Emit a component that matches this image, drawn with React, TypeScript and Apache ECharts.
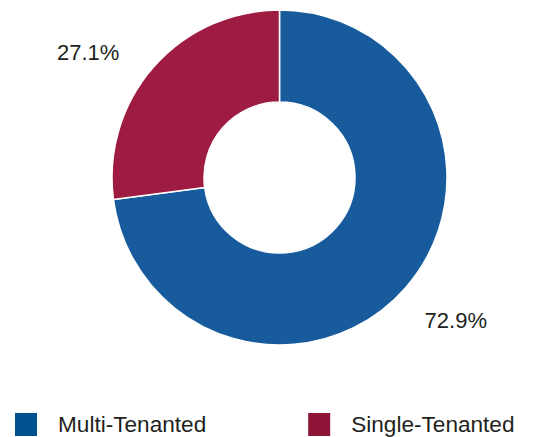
import React, { useEffect, useRef } from "react";
import * as echarts from "echarts";

const categories = ["Multi-Tenanted", "Single-Tenanted"];
const values = [72.9, 27.1];
const sliceColors = ["#185b9c", "#9e1b42"];
const legendColors = ["#00528f", "#8f1538"];

export default function App() {
  const ref = useRef<HTMLDivElement>(null);
  useEffect(() => {
    if (!ref.current) return;
    const chart = echarts.init(ref.current, undefined, { renderer: "svg" });
    const font = "'Liberation Sans', Arial, Helvetica, sans-serif";
    chart.setOption({
      animation: false,
      backgroundColor: "#ffffff",
      legend: {
        left: 13,
        top: 411,
        padding: 0,
        itemWidth: 24,
        itemHeight: 25,
        itemGap: 100,
        icon: "rect",
        selectedMode: false,
        formatter: (name: string) => "{s|}{n|" + name + "}",
        textStyle: {
          fontFamily: font,
          fontSize: 22.6,
          color: "#231f20",
          rich: {
            s: { width: 15 },
            n: { fontFamily: font, fontSize: 22.6, color: "#231f20" },
          },
        },
        data: categories.map((c, i) => ({
          name: c,
          itemStyle: { color: legendColors[i] },
        })),
      },
      series: [
        {
          type: "pie",
          center: [279.5, 177.5],
          radius: [75.5, 167.5],
          startAngle: 90,
          clockwise: true,
          avoidLabelOverlap: false,
          itemStyle: { borderColor: "#ffffff", borderWidth: 1.5 },
          label: {
            show: true,
            position: "outside",
            alignTo: "edge",
            fontFamily: font,
            fontSize: 22,
            color: "#231f20",
            formatter: (p: any) => p.value.toFixed(1) + "%",
          },
          labelLine: { show: false },
          emphasis: { disabled: true },
          data: categories.map((c, i) => ({
            name: c,
            value: values[i],
            itemStyle: { color: sliceColors[i] },
            label: { edgeDistance: i === 0 ? 52 : 57 },
            labelLine: { show: false, length: i === 0 ? 49 : 22, length2: 0 },
          })),
        },
      ],
    });
    return () => chart.dispose();
  }, []);
  return (
    <div
      ref={ref}
      style={{ position: "fixed", left: 0, top: 0, width: 539, height: 437 }}
    />
  );
}
